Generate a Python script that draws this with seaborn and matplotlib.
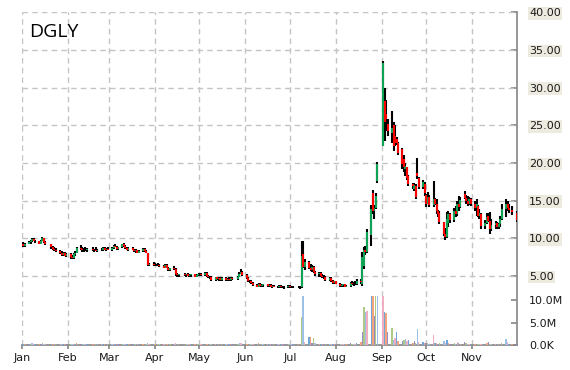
import matplotlib
matplotlib.use("Agg")
import matplotlib.pyplot as plt
import matplotlib.dates as mdates
import numpy as np
import pandas as pd
import seaborn as sns

# ---------------- data (open, high, low, close) per month, 2014 ----------------
ticker = "DGLY"
holidays = ["2014-01-20", "2014-02-17", "2014-04-18", "2014-05-26",
            "2014-07-04", "2014-09-01", "2014-11-27"]
month_spans = [("2014-01-02", "2014-01-31"), ("2014-02-01", "2014-02-28"),
               ("2014-03-01", "2014-03-31"), ("2014-04-01", "2014-04-30"),
               ("2014-05-01", "2014-05-31"), ("2014-06-01", "2014-06-30"),
               ("2014-07-01", "2014-07-31"), ("2014-08-01", "2014-08-31"),
               ("2014-09-01", "2014-09-30"), ("2014-10-01", "2014-10-31"),
               ("2014-11-01", "2014-12-01")]

jan = [(9.3,9.5,8.9,9.0),(9.0,9.4,8.9,9.3),(9.3,9.6,9.2,9.5),(9.5,9.8,9.3,9.7),(9.7,10.0,9.5,9.9),
       (9.9,10.0,9.6,9.7),(9.7,9.8,9.4,9.6),(9.6,9.7,9.2,9.3),(9.3,9.8,9.2,9.7),(9.7,10.2,9.6,10.0),
       (10.0,10.1,9.4,9.5),(9.5,9.6,9.1,9.2),(9.2,9.3,8.6,8.8),(8.8,9.0,8.5,8.6),(8.6,8.8,8.3,8.5),
       (8.5,8.7,8.2,8.3),(8.3,8.5,7.9,8.0),(8.0,8.3,7.6,7.8),(7.8,8.2,7.7,8.1),(8.1,8.2,7.6,7.7),
       (7.7,8.0,7.5,7.9)]
feb = [(7.9,8.0,7.3,7.5),(7.5,7.8,7.2,7.4),(7.4,8.0,7.3,7.9),(7.9,8.3,7.7,8.1),(8.1,8.9,8.0,8.7),
       (8.7,9.1,8.5,8.6),(8.6,8.8,8.2,8.4),(8.4,8.7,8.2,8.5),(8.5,8.8,8.3,8.4),(8.4,8.7,8.2,8.6),
       (8.6,8.8,8.3,8.4),(8.4,8.6,8.2,8.5),(8.5,8.8,8.3,8.3),(8.3,8.6,8.2,8.5),(8.5,8.7,8.3,8.4),
       (8.4,8.8,8.3,8.7),(8.7,8.9,8.4,8.5),(8.5,8.7,8.3,8.6),(8.6,8.8,8.4,8.5)]
mar = [(8.5,8.8,8.3,8.7),(8.7,9.1,8.6,9.0),(9.0,9.3,8.8,8.9),(8.9,9.0,8.5,8.6),(8.6,8.9,8.4,8.8),
       (8.8,9.3,8.7,9.2),(9.2,9.4,8.9,9.0),(9.0,9.1,8.6,8.7),(8.7,8.9,8.4,8.5),(8.5,8.8,8.3,8.7),
       (8.7,8.9,8.4,8.5),(8.5,8.6,8.2,8.3),(8.3,8.6,8.1,8.4),(8.4,8.5,8.0,8.1),(8.1,8.4,8.0,8.3),
       (8.3,8.7,8.2,8.6),(8.6,8.7,8.2,8.3),(8.3,8.4,8.0,8.1),(8.0,8.1,6.3,6.5),(6.5,6.7,6.3,6.6),
       (6.6,6.8,6.3,6.5)]
apr = [(6.5,6.7,6.3,6.4),(6.4,6.6,6.3,6.5),(6.5,6.7,6.4,6.4),(6.4,6.6,6.2,6.3),(6.3,6.4,6.0,6.1),
       (6.1,6.6,6.0,6.5),(6.5,6.6,6.0,6.1),(6.1,6.2,5.7,5.8),(5.8,6.1,5.6,6.0),(6.0,6.3,5.8,5.9),
       (5.9,6.0,5.0,5.2),(5.2,5.4,4.9,5.1),(5.1,5.3,4.9,5.2),(5.2,5.4,5.0,5.1),(5.1,5.3,4.9,5.2),
       (5.2,5.4,5.0,5.0),(5.0,5.2,4.8,5.1),(5.1,5.3,4.9,5.2),(5.2,5.3,4.8,4.9),(4.9,5.2,4.8,5.1),
       (5.1,5.3,5.0,5.2)]
may = [(5.2,5.4,5.0,5.3),(5.3,5.4,5.0,5.1),(5.1,5.5,5.0,5.4),(5.4,5.5,4.9,5.0),(5.0,5.1,4.7,4.8),
       (4.8,5.0,4.6,4.9),(4.9,5.0,4.4,4.5),(4.5,4.9,4.4,4.8),(4.8,4.9,4.5,4.6),(4.6,4.8,4.4,4.7),
       (4.7,4.8,4.4,4.5),(4.5,4.8,4.4,4.7),(4.7,4.8,4.4,4.5),(4.5,4.7,4.3,4.6),(4.6,4.8,4.4,4.5),
       (4.5,4.8,4.4,4.7),(4.7,4.9,4.5,4.6),(4.6,5.0,4.5,4.9),(4.9,5.5,4.8,5.3),(5.3,5.9,5.2,5.5),
       (5.5,5.6,5.0,5.1)]
jun = [(5.1,5.2,4.6,4.7),(4.7,4.8,4.2,4.3),(4.3,4.5,4.1,4.4),(4.4,4.5,4.0,4.1),(4.1,4.2,3.7,3.8),
       (3.8,4.0,3.5,3.6),(3.6,4.1,3.5,4.0),(4.0,4.1,3.6,3.7),(3.7,3.9,3.5,3.8),(3.8,4.0,3.6,3.9),
       (3.9,4.0,3.6,3.7),(3.7,3.9,3.5,3.8),(3.8,3.9,3.5,3.6),(3.6,3.8,3.4,3.7),(3.7,3.8,3.5,3.6),
       (3.6,3.7,3.4,3.5),(3.5,3.8,3.4,3.7),(3.7,3.8,3.4,3.5),(3.5,3.7,3.4,3.6),(3.6,3.7,3.3,3.5),
       (3.5,3.8,3.4,3.7)]
jul = [(3.7,3.8,3.4,3.5),(3.5,3.7,3.4,3.6),(3.6,3.7,3.4,3.5),(3.5,3.7,3.4,3.6),(3.6,3.7,3.3,3.5),
       (3.5,9.6,3.4,7.6),(7.9,9.6,6.0,6.2),(6.2,7.2,5.8,6.9),(6.9,7.0,5.9,6.1),(6.1,6.6,5.6,5.8),
       (5.8,6.4,5.5,6.2),(6.2,6.3,5.4,5.5),(5.5,5.7,5.0,5.2),(5.2,5.5,4.9,5.4),(5.4,5.5,4.9,5.0),
       (5.0,5.2,4.7,4.9),(4.9,5.1,4.6,4.8),(4.8,5.0,4.4,4.5),(4.5,4.8,4.3,4.7),(4.7,4.8,4.2,4.3),
       (4.3,4.5,4.0,4.1),(4.1,4.4,4.0,4.3)]
aug = [(4.3,4.4,3.9,4.0),(4.0,4.1,3.6,3.7),(3.7,3.9,3.5,3.8),(3.8,4.0,3.6,3.9),(3.9,4.0,3.5,3.6),
       (3.6,3.8,3.5,3.7),(3.7,4.2,3.6,4.1),(4.1,4.3,3.8,3.9),(3.9,4.2,3.7,4.0),(4.0,4.3,3.8,3.9),
       (3.9,4.6,3.8,4.4),(4.4,4.6,4.0,4.2),(4.0,8.2,3.7,7.5),(6.3,8.8,5.9,8.5),(8.5,9.0,7.8,8.2),
       (8.2,11.2,8.0,10.8),(10.5,14.4,9.0,13.9),(16.0,16.4,13.2,13.6),(13.6,14.4,12.5,14.0),
       (14.0,16.0,13.9,15.6),(17.6,20.1,17.4,19.8)]
sep = [(22.3,33.5,22.2,33.3),(28.2,30.0,22.9,25.5),(26.5,28.4,24.2,25.8),(25.2,25.8,23.6,24.2),
       (24.0,26.9,22.7,24.6),(25.0,25.5,21.6,22.2),(23.6,25.1,22.2,22.6),(23.2,23.4,22.4,22.6),
       (22.6,22.8,21.0,21.3),(21.8,22.0,19.2,19.8),(20.5,21.1,18.8,19.5),(19.2,20.0,18.3,19.6),
       (19.4,19.4,17.8,18.0),(18.3,18.4,17.0,17.2),(17.2,17.4,16.5,17.0),(16.6,17.4,16.3,17.1),
       (17.0,17.2,15.2,15.5),(18.7,20.7,17.9,18.3),(18.0,18.1,16.5,16.8),(16.8,17.8,16.5,17.5),
       (17.2,17.5,15.6,16.0)]
oct_ = [(15.8,15.9,14.1,14.5),(14.6,16.1,14.5,15.5),(15.5,15.8,14.1,14.4),(14.4,17.6,14.2,15.2),
        (15.2,15.3,14.4,14.6),(14.6,15.2,13.2,13.6),(13.6,13.8,12.8,13.2),(13.4,13.6,11.9,12.1),
        (12.1,12.2,10.3,10.6),(10.6,11.4,9.8,10.2),(10.2,13.5,10.0,12.6),(12.0,13.6,11.5,13.2),
        (13.2,13.4,12.0,12.4),(12.4,14.0,12.1,13.6),(13.6,14.3,12.8,13.2),(13.2,15.0,13.0,14.6),
        (14.6,15.6,13.6,14.2),(14.2,15.5,14.0,15.1),(15.9,16.3,15.2,15.4),(15.4,15.8,14.6,15.0),
        (15.0,15.6,14.3,14.6),(14.6,15.5,14.4,15.2),(15.2,15.4,14.3,14.5)]
nov = [(14.5,15.0,13.6,14.0),(14.0,15.2,13.0,14.6),(14.3,14.4,12.8,13.0),(13.0,13.9,12.5,13.4),
       (13.2,13.3,11.2,11.6),(11.6,12.4,11.3,12.0),(12.0,13.4,11.9,12.8),(12.9,13.3,12.1,12.3),
       (12.3,13.5,10.6,11.3),(11.3,12.5,11.0,11.8),(11.8,12.3,11.3,12.0),(12.0,12.1,11.2,11.5),
       (11.5,12.0,11.2,11.9),(11.9,13.0,11.5,12.6),(12.6,14.5,12.4,13.9),(13.9,15.2,12.8,14.6),
       (14.6,15.0,13.6,14.0),(14.0,14.5,13.4,13.8),(13.8,14.3,13.1,13.5),(13.4,13.6,12.1,12.4)]

# volume, millions of shares
vol_jan = [0.3,0.2,0.25,0.3,0.35,0.2,0.2,0.25,0.3,0.4,0.3,0.2,0.25,0.2,0.15,0.2,0.3,0.25,0.2,0.2,0.15]
vol_feb = [0.2,0.15,0.2,0.2,0.35,0.25,0.2,0.15,0.2,0.2,0.15,0.2,0.2,0.15,0.2,0.25,0.2,0.15,0.2]
vol_mar = [0.2,0.25,0.3,0.2,0.2,0.3,0.25,0.2,0.2,0.15,0.2,0.15,0.2,0.2,0.15,0.2,0.2,0.25,0.5,0.3,0.25]
vol_apr = [0.2,0.2,0.15,0.2,0.25,0.3,0.2,0.25,0.2,0.2,0.4,0.3,0.2,0.15,0.2,0.2,0.15,0.2,0.2,0.15,0.2]
vol_may = [0.2,0.15,0.2,0.3,0.25,0.2,0.3,0.2,0.15,0.2,0.15,0.2,0.15,0.2,0.15,0.2,0.15,0.3,0.45,0.5,0.3]
vol_jun = [0.3,0.3,0.2,0.25,0.3,0.3,0.35,0.2,0.2,0.2,0.15,0.2,0.15,0.2,0.15,0.2,0.25,0.2,0.15,0.2,0.2]
vol_jul = [0.2,0.15,0.15,0.2,0.2,6.2,12.0,0.6,1.7,1.7,0.5,1.5,0.4,0.3,0.3,0.3,0.25,0.3,0.25,0.3,0.25,0.3]
vol_aug = [0.3,0.25,0.3,0.25,0.3,0.25,0.35,0.3,0.25,0.3,0.4,0.6,2.9,8.5,7.3,7.5,15.0,14.0,6.5,13.0,16.0]
vol_sep = [20.0,7.3,7.1,2.9,3.8,1.2,1.5,3.0,0.9,0.9,1.1,1.4,0.8,1.1,0.5,0.9,0.4,3.5,0.6,0.7,0.5]
vol_oct = [0.5,0.4,0.3,2.2,0.4,0.4,0.3,0.5,0.9,0.4,1.1,0.5,0.3,0.4,0.3,0.6,0.4,0.3,0.6,0.4,0.3,0.3,0.3]
vol_nov = [0.3,0.3,0.3,0.3,0.3,0.3,0.4,0.6,0.3,0.3,0.2,0.3,0.2,0.3,0.5,1.3,0.7,0.3,0.2,0.3]

price_ticks = [5, 10, 15, 20, 25, 30, 35, 40]
volume_ticks = [0, 5, 10]
volume_tick_labels = ["0.0K", "5.0M", "10.0M"]
month_labels = ["Jan", "Feb", "Mar", "Apr", "May", "Jun", "Jul", "Aug", "Sep", "Oct", "Nov"]

# ---------------- assemble table ----------------
ohlc_months = [jan, feb, mar, apr, may, jun, jul, aug, sep, oct_, nov]
vol_months = [vol_jan, vol_feb, vol_mar, vol_apr, vol_may, vol_jun, vol_jul,
              vol_aug, vol_sep, vol_oct, vol_nov]
frames = []
for (start, end), rows, vols in zip(month_spans, ohlc_months, vol_months):
    d = pd.bdate_range(start, end, freq="C", holidays=holidays)
    assert len(d) == len(rows) == len(vols), (start, len(d), len(rows), len(vols))
    f = pd.DataFrame(rows, columns=["open", "high", "low", "close"])
    f["date"] = d
    f["volume"] = vols
    frames.append(f)
df = pd.concat(frames, ignore_index=True)
up = df["close"] >= df["open"]

# ---------------- figure ----------------
sns.set_theme(style="white")
plt.rcParams["font.family"] = ["DejaVu Sans"]

W, H = 570, 370
fig = plt.figure(figsize=(W / 100, H / 100), dpi=100)
fig.patch.set_facecolor("white")

def rect(l, t, r, b):
    return [l / W, 1 - b / H, (r - l) / W, (b - t) / H]

ax = fig.add_axes(rect(21.7, 12.3, 516.5, 345))
axv = fig.add_axes(rect(21.7, 296, 516.5, 345), sharex=ax)
axv.patch.set_alpha(0)

grid_col = "#c4c4c4"
dash = (0, (4, 3))
month_starts = pd.date_range("2014-01-01", "2014-11-01", freq="MS")

# candles
ax.vlines(df["date"], df["low"], df["high"], color="black", lw=1.5, zorder=3)
ax.vlines(df["date"][up], df["open"][up], df["close"][up], color="#0fa356", lw=1.5, zorder=4)
ax.vlines(df["date"][~up], df["open"][~up], df["close"][~up], color="#ff0000", lw=1.5, zorder=4)

# volume bars
vol_palette = sns.color_palette(["#6fa6da", "#f4a37a", "#958bc6", "#adc985", "#9dc1e6", "#f1aec0"])
bar_cols = [vol_palette[i % len(vol_palette)] for i in range(len(df))]
axv.bar(df["date"], df["volume"], width=0.95, color=bar_cols, linewidth=0, zorder=2)

# axes limits
ax.set_xlim(pd.Timestamp("2014-01-01"), pd.Timestamp("2014-12-01"))
ax.set_ylim(-4.16, 40)
axv.set_ylim(0, 10.9)

# grid
for m in month_starts:
    ax.axvline(m, color=grid_col, lw=1, ls=dash, zorder=1)
for p in price_ticks:
    ax.axhline(p, color=grid_col, lw=1, ls=dash, zorder=1)

# spines
for a in (ax, axv):
    for s in a.spines.values():
        s.set_visible(False)
ax.spines["right"].set_visible(True)
ax.spines["right"].set_color("#8a8a8a")
ax.spines["bottom"].set_visible(True)
ax.spines["bottom"].set_color("#8a8a8a")

# price ticks on the right
ax.yaxis.tick_right()
ax.set_yticks(price_ticks)
ax.set_yticklabels([f"{p:.2f}" for p in price_ticks])
ax.tick_params(axis="y", direction="in", length=4, color="#8a8a8a", pad=9,
               labelsize=8, labelcolor="#1a1a1a", right=True, left=False)
for lab in ax.get_yticklabels():
    lab.set_bbox(dict(facecolor="#edeadf", edgecolor="none", pad=1.0))

# volume ticks on the right
axv.yaxis.tick_right()
axv.set_yticks(volume_ticks)
axv.set_yticklabels(volume_tick_labels)
axv.tick_params(axis="y", direction="in", length=4, color="#8a8a8a", pad=9,
                labelsize=8, labelcolor="#1a1a1a", right=True, left=False)

# month ticks
ax.set_xticks(month_starts)
ax.set_xticklabels(month_labels)
ax.tick_params(axis="x", direction="out", length=3, color="#8a8a8a", pad=3,
               labelsize=8, labelcolor="#1a1a1a", bottom=True)
axv.tick_params(axis="x", bottom=False, labelbottom=False)
ax.grid(False)
axv.grid(False)

# title
fig.text(29.3 / W, 1 - 36.7 / H, ticker, fontsize=14, family=["Open Sans", "DejaVu Sans"],
         color="black", ha="left", va="baseline")

fig.savefig("out.png", dpi=100, facecolor="white")
